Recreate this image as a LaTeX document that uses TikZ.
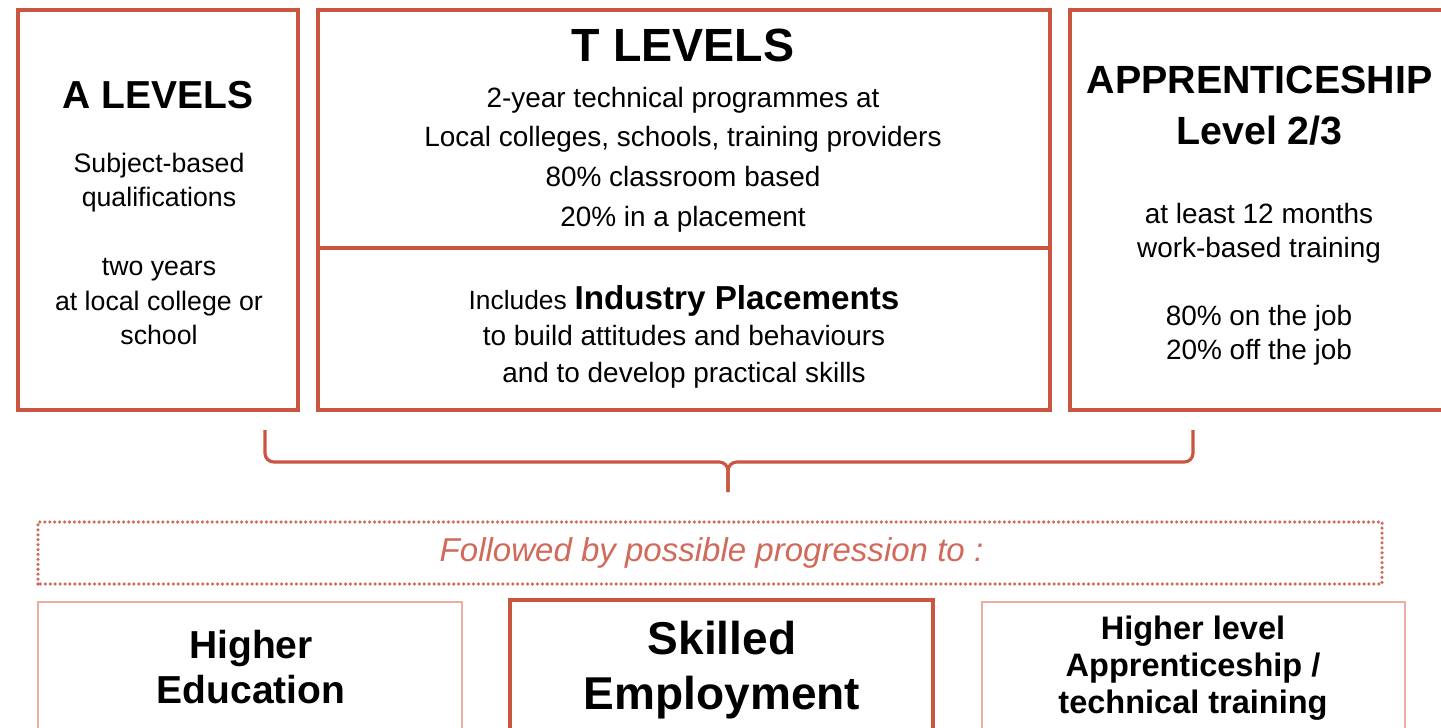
\documentclass[tikz,border=0pt]{standalone}
\usepackage{fontspec}
\setmainfont{Liberation Sans}
\definecolor{boxred}{RGB}{201,86,64}
\definecolor{palered}{RGB}{238,172,162}
\definecolor{progred}{RGB}{210,106,90}
\newcommand{\fsz}[2]{\fontsize{#1}{#2}\selectfont}
\begin{document}
\begin{tikzpicture}
\tikzset{every node/.style={align=center, inner sep=0pt},
  box/.style={draw=boxred, line width=2pt},
  lightbox/.style={draw=palered, line width=0.9pt},
  heavybox/.style={draw=boxred, line width=2.3pt},
  dotbox/.style={draw=progred, line width=2pt, line cap=round, dash pattern=on 0pt off 2.8pt},
  brace/.style={draw=boxred, line width=1.8pt, rounded corners=5pt}}
\clip (0,0) rectangle (28.82,14.54);
\fill [white] (0,0) rectangle (28.82,14.54);

% top row
\draw [box] (0.36,6.34) rectangle (5.96,14.34);
\node (alevel) [font=\fsz{22.2}{26}\bfseries] at (3.16,12.64) {A LEVELS};
\node (alevelinfo) [font=\fsz{15.2}{19.6}] at (3.18,9.56) {Subject-based\\qualifications\\[19.6pt]two years\\at local college or\\school};

\draw [box] (6.36,6.34) rectangle (21.0,14.34);
\draw [box] (6.36,9.58) -- (21.0,9.58);
\node (tlevel) [font=\fsz{26.5}{30}\bfseries] at (13.66,13.64) {T LEVELS};
\node (tlevelinfo) [font=\fsz{15.9}{22.6}] at (13.66,11.35) {2-year technical programmes at\\Local colleges, schools, training providers\\80\% classroom based\\20\% in a placement};
\node (placement) [font=\fsz{15.9}{20.8}] at (13.68,7.81) {{\fsz{15}{20.8}Includes} {\fsz{18.9}{20.8}\bfseries Industry Placements}\\to build attitudes and behaviours\\and to develop practical skills};

\draw [box] (21.4,6.34) rectangle (29.5,14.34);
\node (appr) [font=\fsz{22.4}{29}\bfseries] at (25.19,12.43) {APPRENTICESHIP\\Level 2/3};
\node (apprinfo) [font=\fsz{15.9}{19.4}] at (25.18,8.86) {at least 12 months\\work-based training\\[19.4pt]80\% on the job\\20\% off the job};

% brace
\coordinate (bl) at (5.3,5.94);
\coordinate (br) at (23.86,5.94);
\coordinate (btip) at (14.56,4.7);
\draw [brace] (bl) -- (5.3,5.3) -- (14.56,5.3) -- (btip);
\draw [brace] (br) -- (23.86,5.3) -- (14.56,5.3) -- (btip);

% progression
\draw [dotbox] (0.76,2.86) rectangle (27.64,4.1);
\node (prog) [font=\fsz{18.8}{22}\itshape, text=progred] at (14.23,3.48) {Followed by possible progression to :};

\draw [lightbox] (0.76,-0.5) rectangle (9.24,2.5);
\node (hedu) [font=\fsz{22.2}{25.6}\bfseries] at (5.02,1.19) {Higher\\Education};
\draw [heavybox] (10.2,-0.5) rectangle (18.66,2.54);
\node (skilled) [font=\fsz{26.2}{31.3}\bfseries] at (14.44,1.13) {Skilled\\Employment};
\draw [lightbox] (19.64,-0.5) rectangle (28.1,2.5);
\node (hlevel) [font=\fsz{18.5}{21}\bfseries] at (23.86,1.18) {Higher level\\Apprenticeship /\\technical training};
\end{tikzpicture}
\end{document}
